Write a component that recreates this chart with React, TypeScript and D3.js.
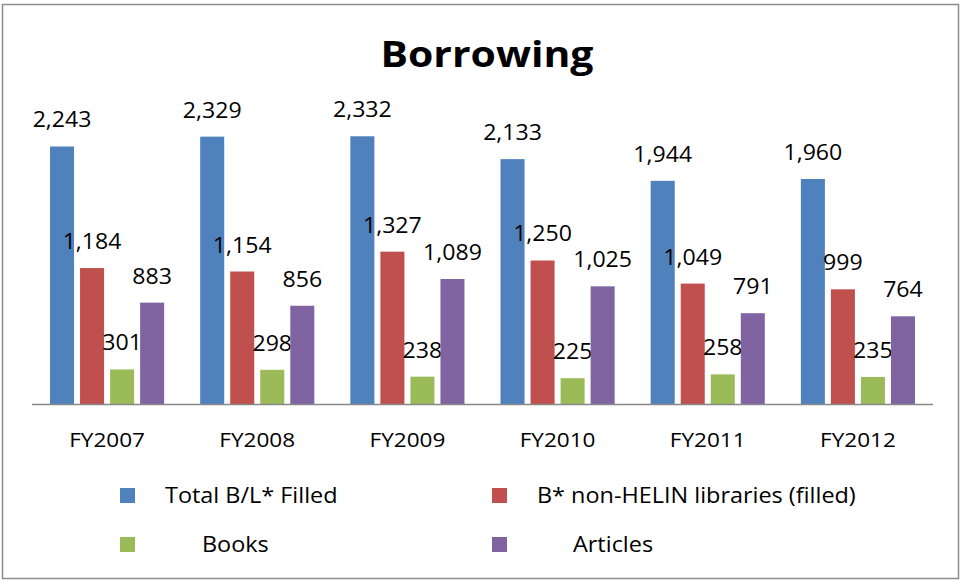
import React from "react";
import * as d3 from "d3";

const categories = ["FY2007", "FY2008", "FY2009", "FY2010", "FY2011", "FY2012"];
const seriesNames = ["Total B/L* Filled", "B* non-HELIN libraries (filled)", "Books", "Articles"];
const totalFilled = [2243, 2329, 2332, 2133, 1944, 1960];
const nonHelin = [1184, 1154, 1327, 1250, 1049, 999];
const books = [301, 298, 238, 225, 258, 235];
const articles = [883, 856, 1089, 1025, 791, 764];
const colors = ["#4F81BD", "#C0504D", "#9BBB59", "#8064A2"];

const W = 964;
const H = 580;
const FONT = "'Open Sans', 'DejaVu Sans', sans-serif";

export default function App() {
  const series = [totalFilled, nonHelin, books, articles];
  const x0 = d3.scaleBand<string>().domain(categories).range([32, 933]).paddingInner(0.24).paddingOuter(0.12);
  const x1 = d3.scaleBand<number>().domain([0, 1, 2, 3]).range([0, x0.bandwidth()]).paddingInner(0.2).paddingOuter(0);
  const y = d3.scaleLinear().domain([0, 2500]).range([404, 117]);
  const fmt = d3.format(",");

  const legendItems = [
    { i: 0, mx: 120, my: 488, tx: 165, ty: 503 },
    { i: 1, mx: 492, my: 488, tx: 537, ty: 503 },
    { i: 2, mx: 120, my: 537, tx: 202, ty: 552 },
    { i: 3, mx: 492, my: 537, tx: 573, ty: 552 },
  ];

  const sx = (cx: number, k: number) => `translate(${cx},0) scale(${k},1) translate(${-cx},0)`;

  return (
    <svg width={W} height={H} style={{ position: "absolute", left: 0, top: 0, display: "block" }}>
      <rect x={0} y={0} width={W} height={H} fill="#fff" />
      <rect x={2.5} y={4.5} width={956} height={574} fill="#fff" stroke="#8c8c8c" strokeWidth={1.5} />
      <text x={487} y={67} textAnchor="middle" fontFamily={FONT} fontWeight="bold" fontSize={35}
        transform={sx(487, 1.17)} fill="#000">Borrowing</text>
      {categories.map((c, ci) => {
        const cx = (x0(c) as number) + x0.bandwidth() / 2;
        return (
          <g key={c}>
            {series.map((s, si) => {
              const bx = (x0(c) as number) + (x1(si) as number);
              const bw = x1.bandwidth();
              const v = s[ci];
              return (
                <g key={si}>
                  <rect x={bx} y={y(v)} width={bw} height={y(0) - y(v)} fill={colors[si]} />
                  <text x={bx + bw / 2} y={y(v) - 19} textAnchor="middle" fontFamily={FONT} fontSize={21}
                    transform={sx(bx + bw / 2, 1.1)} fill="#000">
                    {fmt(v)}
                  </text>
                </g>
              );
            })}
            <text x={cx} y={447} textAnchor="middle" fontFamily={FONT} fontSize={20.5}
              transform={sx(cx, 1.1)} fill="#000">{c}</text>
          </g>
        );
      })}
      <line x1={32} x2={933} y1={404.5} y2={404.5} stroke="#888" strokeWidth={1.5} />
      {legendItems.map((l) => (
        <g key={l.i}>
          <rect x={l.mx} y={l.my} width={15} height={15} fill={colors[l.i]} />
          <text x={l.tx} y={l.ty} fontFamily={FONT} fontSize={22} fill="#000"
            transform={sx(l.tx, 1.065)}>{seriesNames[l.i]}</text>
        </g>
      ))}
    </svg>
  );
}
